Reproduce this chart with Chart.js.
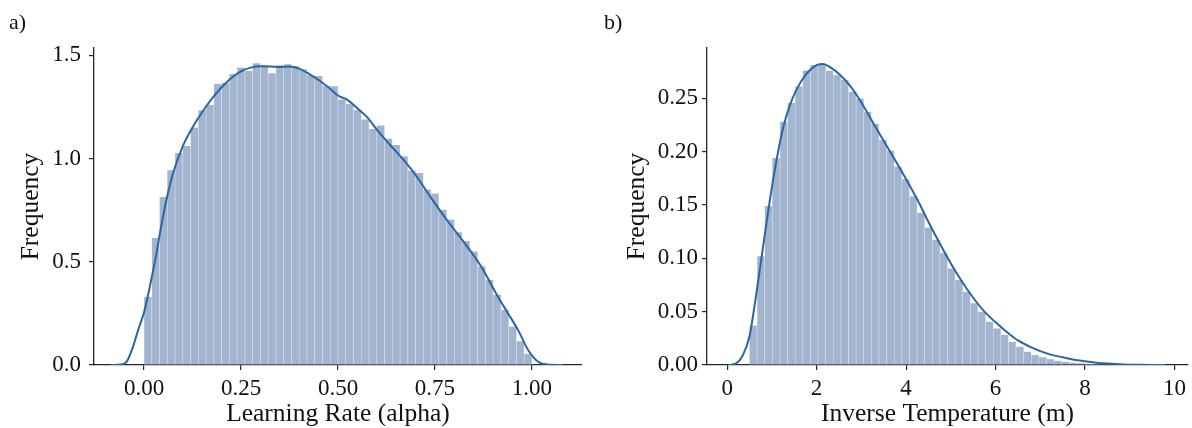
<!DOCTYPE html>
<html>
<head>
<meta charset="utf-8">
<script src="https://cdn.jsdelivr.net/npm/chart.js@4.4.1/dist/chart.umd.min.js"></script>
<style>
  body { margin: 0; background: #fff; }
  #wrap { position: relative; width: 1192px; height: 428px; font-family: "Liberation Serif", "Times New Roman", serif; }
  .panel { position: absolute; top: 0; width: 596px; height: 428px; }
  .tag { position: absolute; top: 9px; font-size: 22px; color: #111; }
</style>
</head>
<body>
<div id="wrap">
  <div class="panel" style="left:0"><canvas id="alphaChart" width="596" height="428"></canvas></div>
  <div class="panel" style="left:596px"><canvas id="betaChart" width="596" height="428"></canvas></div>
  <div class="tag" style="left:9px">a)</div>
  <div class="tag" style="left:604px">b)</div>
</div>
<script>
// learning rate histogram: 50 bins over [0, 1]
const alphaBinStart = 0.0
const alphaBinWidth = 0.02
const alphaFreq = [
  0.33, 0.615, 0.813, 0.943, 1.026, 1.06, 1.15, 1.234, 1.26, 1.362,
  1.367, 1.41, 1.44, 1.424, 1.461, 1.451, 1.413, 1.451, 1.456, 1.448,
  1.432, 1.403, 1.40, 1.351, 1.35, 1.286, 1.265, 1.235, 1.189, 1.143,
  1.16, 1.095, 1.065, 1.011, 0.942, 0.93, 0.85, 0.83, 0.752, 0.704,
  0.643, 0.60, 0.55, 0.478, 0.413, 0.34, 0.267, 0.186, 0.115, 0.055
]
// density estimate for alpha
const alphaKdeX = [-0.085, -0.06, -0.045, -0.03, -0.015, 0.0, 0.015, 0.03, 0.045, 0.06, 0.075, 0.1, 0.125, 0.15, 0.175, 0.2, 0.225, 0.25, 0.275, 0.3, 0.325, 0.35, 0.375, 0.4, 0.425, 0.45, 0.475, 0.5, 0.525, 0.55, 0.575, 0.6, 0.625, 0.65, 0.675, 0.7, 0.74, 0.783, 0.826, 0.869, 0.912, 0.938, 0.964, 0.99, 1.016, 1.04, 1.08]
const alphaKdeY = [0.0, 0.002, 0.015, 0.08, 0.17, 0.255, 0.38, 0.52, 0.68, 0.82, 0.93, 1.06, 1.15, 1.225, 1.29, 1.345, 1.39, 1.422, 1.44, 1.447, 1.446, 1.443, 1.446, 1.435, 1.41, 1.38, 1.345, 1.305, 1.283, 1.243, 1.20, 1.14, 1.085, 1.033, 0.98, 0.92, 0.809, 0.696, 0.591, 0.477, 0.332, 0.251, 0.17, 0.073, 0.016, 0.002, 0.0]
const alphaTicksX = [0, 0.25, 0.5, 0.75, 1.0]
const alphaTicksY = [0, 0.5, 1.0, 1.5]

// inverse temperature histogram: 50 bins from 0.5
const betaBinStart = 0.5
const betaBinWidth = 0.1702
const betaFreq = [
  0.037, 0.102, 0.149, 0.194, 0.228, 0.2456, 0.261, 0.276, 0.281, 0.282,
  0.2756, 0.2715, 0.267, 0.256, 0.2497, 0.237, 0.226, 0.211, 0.201, 0.186,
  0.174, 0.158, 0.1426, 0.1288, 0.117, 0.1046, 0.0905, 0.0796, 0.0687, 0.0578,
  0.050, 0.0406, 0.0343, 0.0281, 0.0218, 0.0172, 0.0125, 0.0094, 0.0072, 0.0053,
  0.004, 0.003, 0.0022, 0.0016, 0.0012, 0.0009, 0.0006, 0.0004, 0.0003, 0.0002
]
const betaKdeX = [0.03, 0.2, 0.35, 0.5, 0.65, 0.8, 0.95, 1.1, 1.25, 1.4, 1.55, 1.775, 2.0, 2.15, 2.3, 2.52, 2.74, 2.97, 3.26, 3.64, 4.0, 4.25, 4.5, 4.75, 5.0, 5.25, 5.5, 5.75, 6.0, 6.25, 6.5, 6.75, 7.0, 7.25, 7.5, 7.75, 8.0, 8.25, 8.5, 8.75, 9.0, 9.4, 9.8]
const betaKdeY = [0.0, 0.0015, 0.009, 0.027, 0.066, 0.11, 0.153, 0.191, 0.222, 0.243, 0.258, 0.273, 0.281, 0.282, 0.279, 0.272, 0.262, 0.248, 0.227, 0.2, 0.174, 0.155, 0.134, 0.114, 0.095, 0.078, 0.063, 0.05, 0.04, 0.031, 0.023, 0.0175, 0.013, 0.0095, 0.0072, 0.005, 0.0035, 0.0022, 0.0013, 0.0007, 0.0003, 0.0001, 0.0]
const betaTicksX = [0, 2, 4, 6, 8, 10]
const betaTicksY = [0, 0.05, 0.10, 0.15, 0.20, 0.25]

const serif = '"Liberation Serif", "Times New Roman", serif'
const barFill = '#a2b4ce'
const lineBlue = '#2b66a2'
const axisInk = '#262626'

function histChart(id, o) {
  const bars = o.freq.map((v, i) => ({ x: o.binStart + o.binWidth * (i + 0.5), y: v }))
  const kde = o.kdeX.map((x, i) => ({ x: x, y: o.kdeY[i] }))

  return new Chart(document.getElementById(id), {
    type: 'bar',
    data: {
      datasets: [
        {
          type: 'line',
          data: kde,
          borderColor: lineBlue,
          borderWidth: 2,
          pointRadius: 0,
          cubicInterpolationMode: 'monotone',
          fill: false
        },
        {
          type: 'bar',
          data: bars,
          backgroundColor: barFill,
          borderColor: 'rgba(214,224,238,0.9)',
          borderWidth: { left: 0.6, right: 0.6, top: 0, bottom: 0 },
          borderSkipped: false,
          barPercentage: 1,
          categoryPercentage: 1
        }
      ]
    },
    options: {
      responsive: false,
      animation: false,
      layout: { padding: { left: 0, right: o.padRight, top: 48, bottom: 0 } },
      plugins: { legend: { display: false }, tooltip: { enabled: false } },
      scales: {
        x: {
          type: 'linear',
          min: o.xMin,
          max: o.xMax,
          offset: false,
          afterFit: (s) => { s.height = 63 },
          afterBuildTicks: (s) => { s.ticks = o.ticksX.map(v => ({ value: v })) },
          grid: { offset: false, drawOnChartArea: false, drawTicks: true, tickLength: 5, color: axisInk, lineWidth: 1.2 },
          border: { display: true, color: axisInk, width: 1.3 },
          ticks: {
            color: '#111',
            padding: 5,
            maxRotation: 0,
            font: { family: serif, size: 23 },
            callback: (v) => v.toFixed(o.decX)
          },
          title: {
            display: true,
            text: o.titleX,
            color: '#111',
            font: { family: serif, size: 25.5, lineHeight: 1 },
            padding: { top: 0, bottom: 1 }
          }
        },
        y: {
          min: 0,
          max: o.yMax,
          afterFit: (s) => { s.width = o.yWidth },
          afterBuildTicks: (s) => { s.ticks = o.ticksY.map(v => ({ value: v })) },
          grid: { drawOnChartArea: false, drawTicks: true, tickLength: 5, color: axisInk, lineWidth: 1.2 },
          border: { display: true, color: axisInk, width: 1.3 },
          ticks: {
            color: '#111',
            padding: o.tickPadY,
            font: { family: serif, size: 23 },
            callback: (v) => v.toFixed(o.decY)
          },
          title: {
            display: true,
            text: 'Frequency',
            color: '#111',
            font: { family: serif, size: 25.5, lineHeight: 1 },
            padding: { top: o.titlePadY, bottom: 0 }
          }
        }
      }
    }
  })
}

histChart('alphaChart', {
  freq: alphaFreq, binStart: alphaBinStart, binWidth: alphaBinWidth,
  kdeX: alphaKdeX, kdeY: alphaKdeY,
  ticksX: alphaTicksX, ticksY: alphaTicksY, decX: 2, decY: 1,
  xMin: -0.129, xMax: 1.129, yMax: 1.535,
  titleX: 'Learning Rate (alpha)',
  padRight: 14, yWidth: 94, tickPadY: 8, titlePadY: 19
})

histChart('betaChart', {
  freq: betaFreq, binStart: betaBinStart, binWidth: betaBinWidth,
  kdeX: betaKdeX, kdeY: betaKdeY,
  ticksX: betaTicksX, ticksY: betaTicksY, decX: 0, decY: 2,
  xMin: -0.45, xMax: 10.3, yMax: 0.297,
  titleX: 'Inverse Temperature (m)',
  padRight: 4, yWidth: 111, tickPadY: 4, titlePadY: 29
})
</script>
</body>
</html>
